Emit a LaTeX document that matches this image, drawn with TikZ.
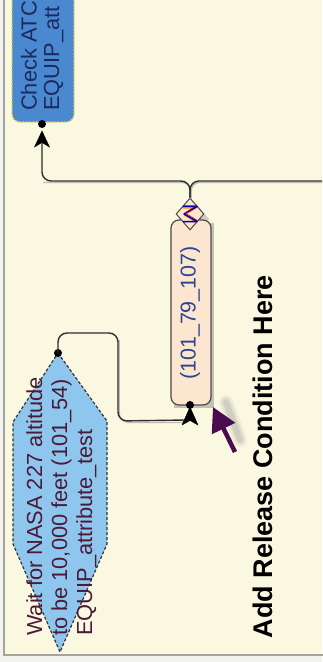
\documentclass[tikz,border=0pt]{standalone}
\usepackage{fontspec}
\setmainfont{Liberation Sans}
\usetikzlibrary{arrows.meta,shapes.geometric}
\definecolor{cream}{HTML}{FAF8E1}
\definecolor{margincol}{HTML}{F2F2EE}
\definecolor{framecol}{HTML}{A4A49C}
\definecolor{conncol}{HTML}{2E2E2E}
\definecolor{connshade}{HTML}{AEAEA4}
\definecolor{blfill}{HTML}{4A88D0}
\definecolor{blborder}{HTML}{E4D44A}
\definecolor{bltext}{HTML}{1C2A5E}
\definecolor{hxfill}{HTML}{8EC6EE}
\definecolor{hxborder}{HTML}{333333}
\definecolor{hxtext}{HTML}{4A1A38}
\definecolor{pch}{HTML}{FCE6CF}
\definecolor{pchborder}{HTML}{4A4A4A}
\definecolor{pchtext}{HTML}{2A4690}
\definecolor{purp}{HTML}{4A0C4C}
\begin{document}
\begin{tikzpicture}[x=1pt,y=-1pt,
  conn/.style={draw=conncol, line width=1.4pt, rounded corners=9pt},
  connshadow/.style={draw=connshade, line width=1.3pt, rounded corners=9pt, opacity=0.8},
  tipdot/.style={circle, fill=black, minimum size=8pt, inner sep=0pt},
  lbl/.style={rotate=90, inner sep=0pt, anchor=base west, font=\fontsize{21.8}{25}\selectfont},
  bluebox/.style={draw=blborder, fill=blfill, line width=1.3pt, dash pattern=on 2pt off 1.5pt,
    rounded corners=8pt, inner sep=0pt},
  procbox/.style={draw=pchborder, fill=pch, line width=1.2pt, rounded corners=8pt, inner sep=0pt},
  gate/.style={diamond, draw=pchborder, fill=pch, line width=1pt, inner sep=0pt},
  hexbox/.style={draw=hxborder, fill=hxfill, line width=1.2pt, dash pattern=on 3pt off 2pt},
  headfill/.style={fill=black, draw=black, line width=0.4pt, line join=miter},
]
\useasboundingbox (0,0) rectangle (322,662);
\fill[margincol] (0,0) rectangle (322,662);
\fill[cream] (4,0) rectangle (322,655);
\draw[framecol, line width=1.2pt] (4,-2) -- (4,655) -- (324,655);
\clip (4.6,0) rectangle (322,654.4);

% ---- blue task box (cut off at the top)
\node[bluebox, minimum width=62pt, minimum height=132pt] (chk) at (43,56) {};
\node[lbl, text=bltext] (chkA) at (36.5,111) {Check ATC};
\node[lbl, text=bltext] (chkB) at (59,111) {EQUIP\_att};
\node[tipdot] (d1) at (42,124) {};
\coordinate (a1) at (42,131);
\coordinate (a1b) at (42,143);

% ---- gate diamond and process box
\fill[gray, opacity=0.35] (195,203) -- (209,219) -- (195,235) -- (181,219) -- cycle;
\fill[gray, opacity=0.45] (173.5,222.5) rectangle (214,408);
\node[procbox, minimum width=40pt, minimum height=185pt] (prc) at (191,312.5) {};
\node[rotate=90, inner sep=0pt, text=pchtext, font=\fontsize{21.5}{25}\selectfont] (prct) at (190,313) {(101\_79\_107)};
\node[gate, minimum width=28pt, minimum height=32pt] (dia) at (190,214) {};
\draw[orange!80!yellow, line width=0.8pt, line join=round] (183,208.2) -- (196,208.2) -- (184.5,215.2) -- (196,222.6);
\draw[blue!70!black, line width=1.5pt, line join=round] (183,206.5) -- (197,206.5) -- (184,214) -- (197,221.5) -- (183,221.5);
\draw[red!70!black, line width=0.6pt, line join=round] (183,205.3) -- (197,205.3) -- (185,213) -- (197,220.3);
\node[tipdot] (d2) at (190,405) {};
\coordinate (a2) at (190,407);
\coordinate (a2b) at (190,420);

% ---- hexagon
\draw[hexbox] (58,353) -- (107,421) -- (107,544) -- (60,652) -- (13,544) -- (13,422) -- cycle;
\coordinate (hextop) at (58,353);
\node[tipdot] (d3) at (hextop) {};
\node[lbl, text=hxtext] (hx1) at (42,636) {Wait for NASA 227 altitude};
\node[lbl, text=hxtext] (hx2) at (67,636) {to be 10,000 feet (101\_54)};
\node[lbl, text=hxtext] (hx3) at (92,636) {EQUIP\_attribute\_test};

% ---- connector shadows
\draw[connshadow] (191,199) -- (191,182.4) -- (43,182.4);
\draw[connshadow] (191,199) -- (191,182.4) -- (330,182.4);
\draw[connshadow] (119.2,340) -- (119.2,422.4) -- (184,422.4);

% ---- connectors
\coordinate (rend) at (330,181);
\draw[conn] (dia.north) -- (190,181) -- (42,181) -- (a1b);
\fill[headfill] (a1) -- ++(7.5,16) -- ++(-7.5,-4.5) -- ++(-7.5,4.5) -- cycle;
\draw[conn] (dia.north) -- (190,181) -- (rend);
\draw[conn] (d3.center) -- (58,333) -- (118,333) -- (118,421) -- (a2b -| 186,0);
\fill[headfill] (a2) -- ++(8,18) -- ++(-8,-4.5) -- ++(-8,4.5) -- cycle;

% ---- release-condition hint
\coordinate (pt) at (235,452);
\coordinate (ph) at (213,407);
\foreach \s/\o in {14/0.08, 10/0.12, 6/0.18}{
  \draw[gray, line width=\s pt, opacity=\o, line cap=round] (240,440) -- (226,402);
}
\draw[purp, line width=4.5pt, -{Triangle[length=24pt,width=25pt]}] (pt) -- (ph);
\node[rotate=90, inner sep=0pt, anchor=base, font=\fontsize{27}{30}\selectfont\bfseries] (hint) at (272,456.5) {Add Release Condition Here};
\end{tikzpicture}
\end{document}
